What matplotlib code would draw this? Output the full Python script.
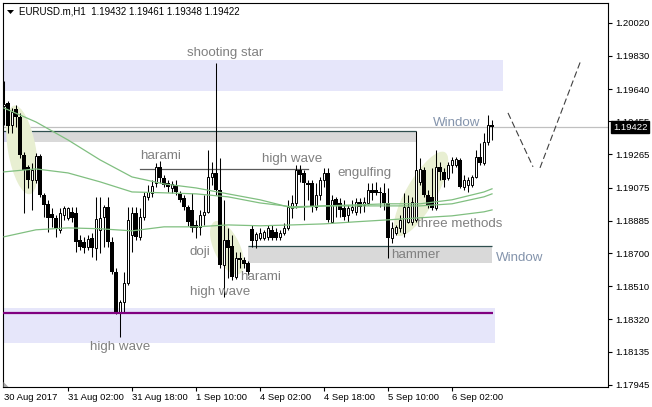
import matplotlib
matplotlib.use('Agg')
import matplotlib.pyplot as plt
from matplotlib.patches import Ellipse, Rectangle, Polygon
from matplotlib.transforms import Affine2D, ScaledTranslation
import numpy as np

# ---------------- data ----------------
title_text = "EURUSD.m,H1  1.19432 1.19461 1.19348 1.19422"

opens = [1.19543, 1.19560, 1.19434, 1.19526, 1.19480, 1.19262, 1.19194, 1.19119, 1.19119, 1.19257,
         1.19033, 1.18982, 1.18924, 1.18902, 1.18833, 1.18919, 1.18902, 1.18936, 1.18930, 1.18776,
         1.18764, 1.18735, 1.18787, 1.18730, 1.18833, 1.18907, 1.18965, 1.18764, 1.18592, 1.18363,
         1.18420, 1.18529, 1.18804, 1.18930, 1.18793, 1.18907, 1.19022, 1.19045, 1.19102, 1.19194,
         1.19131, 1.19102, 1.19073, 1.19091, 1.19045, 1.19016, 1.18965, 1.18947, 1.18861, 1.18850,
         1.18919, 1.18936, 1.19136, 1.19159, 1.19062, 1.18632, 1.18776, 1.18741, 1.18564, 1.18672,
         1.18661, 1.18644, 1.18839, 1.18776, 1.18787, 1.18787, 1.18793, 1.18833, 1.18821, 1.18793,
         1.18816, 1.18844, 1.18959, 1.18987, 1.19176, 1.19159, 1.19102, 1.19102, 1.18965, 1.19033,
         1.19119, 1.19159, 1.18879, 1.19010, 1.18987, 1.18959, 1.18919, 1.18947, 1.18936, 1.18993,
         1.18976, 1.18987, 1.19062, 1.19062, 1.19050, 1.19045, 1.18987, 1.18787, 1.18816, 1.18844,
         1.18816, 1.18879, 1.18879, 1.18890, 1.19108, 1.19176, 1.19033, 1.19022, 1.18959, 1.19194,
         1.19165, 1.19131, 1.19205, 1.19205, 1.19234, 1.19079, 1.19091, 1.19091, 1.19136, 1.19251,
         1.19217, 1.19337, 1.19432]
highs = [1.19686, 1.19572, 1.19531, 1.19549, 1.19503, 1.19280, 1.19205, 1.19217, 1.19274, 1.19268,
         1.19045, 1.19005, 1.18959, 1.18919, 1.18959, 1.18970, 1.18965, 1.18965, 1.18965, 1.18804,
         1.18793, 1.18804, 1.18816, 1.19022, 1.19022, 1.18976, 1.19022, 1.18793, 1.18615, 1.18432,
         1.18592, 1.18965, 1.18965, 1.18965, 1.18959, 1.19050, 1.19091, 1.19119, 1.19217, 1.19228,
         1.19148, 1.19119, 1.19113, 1.19119, 1.19056, 1.19033, 1.18976, 1.19045, 1.18890, 1.18947,
         1.19033, 1.19291, 1.19222, 1.19789, 1.19245, 1.19005, 1.18844, 1.18804, 1.18707, 1.18707,
         1.18678, 1.18655, 1.18861, 1.18821, 1.18844, 1.18833, 1.18861, 1.18861, 1.18844, 1.18833,
         1.18873, 1.19005, 1.19033, 1.19205, 1.19205, 1.19176, 1.19119, 1.19119, 1.19102, 1.19136,
         1.19188, 1.19188, 1.19033, 1.19022, 1.19016, 1.19005, 1.18976, 1.19005, 1.19016, 1.19016,
         1.19022, 1.19102, 1.19102, 1.19108, 1.19079, 1.19102, 1.19073, 1.18879, 1.18861, 1.18919,
         1.19045, 1.19033, 1.19022, 1.19400, 1.19245, 1.19194, 1.19062, 1.19188, 1.19291, 1.19222,
         1.19188, 1.19222, 1.19251, 1.19251, 1.19245, 1.19148, 1.19136, 1.19148, 1.19291, 1.19331,
         1.19388, 1.19491, 1.19461]
lows = [1.19434, 1.19388, 1.19388, 1.19423, 1.19245, 1.18930, 1.19073, 1.18947, 1.19102, 1.19022,
        1.18907, 1.18821, 1.18850, 1.18793, 1.18816, 1.18890, 1.18890, 1.18879, 1.18707, 1.18718,
        1.18701, 1.18718, 1.18678, 1.18661, 1.18701, 1.18735, 1.18735, 1.18581, 1.18352, 1.18220,
        1.18357, 1.18518, 1.18707, 1.18776, 1.18776, 1.18890, 1.19005, 1.19022, 1.19079, 1.19102,
        1.19079, 1.19050, 1.19045, 1.19033, 1.18993, 1.18947, 1.18856, 1.18821, 1.18787, 1.18804,
        1.18861, 1.18930, 1.19091, 1.19033, 1.18615, 1.18449, 1.18558, 1.18546, 1.18552, 1.18615,
        1.18615, 1.18575, 1.18735, 1.18730, 1.18776, 1.18776, 1.18776, 1.18776, 1.18776, 1.18776,
        1.18804, 1.18833, 1.18902, 1.18959, 1.19108, 1.18890, 1.19005, 1.18936, 1.18947, 1.19005,
        1.19079, 1.18879, 1.18873, 1.18907, 1.18907, 1.18890, 1.18879, 1.18930, 1.18919, 1.18930,
        1.18936, 1.18976, 1.19005, 1.19033, 1.18965, 1.18947, 1.18672, 1.18758, 1.18804, 1.18821,
        1.18793, 1.18873, 1.18861, 1.18879, 1.19091, 1.19022, 1.18959, 1.18947, 1.18947, 1.19119,
        1.19079, 1.19119, 1.19159, 1.19194, 1.19073, 1.19062, 1.19050, 1.19079, 1.19131, 1.19205,
        1.19205, 1.19320, 1.19348]
closes = [1.19554, 1.19428, 1.19509, 1.19480, 1.19262, 1.19176, 1.19119, 1.19176, 1.19257, 1.19033,
          1.18976, 1.18902, 1.18902, 1.18844, 1.18930, 1.18959, 1.18959, 1.18902, 1.18764, 1.18735,
          1.18730, 1.18781, 1.18730, 1.18896, 1.18902, 1.18965, 1.18764, 1.18592, 1.18363, 1.18420,
          1.18529, 1.18890, 1.18930, 1.18793, 1.18907, 1.19028, 1.19050, 1.19085, 1.19194, 1.19131,
          1.19091, 1.19079, 1.19096, 1.19050, 1.19005, 1.18965, 1.18879, 1.18844, 1.18844, 1.18919,
          1.18936, 1.19136, 1.19159, 1.19062, 1.18632, 1.18776, 1.18730, 1.18564, 1.18672, 1.18661,
          1.18638, 1.18592, 1.18770, 1.18810, 1.18816, 1.18821, 1.18844, 1.18787, 1.18787, 1.18816,
          1.18844, 1.18965, 1.18987, 1.19176, 1.19148, 1.19102, 1.19091, 1.18965, 1.19033, 1.19119,
          1.19159, 1.18890, 1.19005, 1.18976, 1.18947, 1.18907, 1.18959, 1.18965, 1.18993, 1.18965,
          1.18993, 1.19062, 1.19045, 1.19045, 1.19045, 1.18987, 1.18787, 1.18844, 1.18850, 1.18890,
          1.18965, 1.18965, 1.18993, 1.19176, 1.19182, 1.19033, 1.18976, 1.18959, 1.19194, 1.19165,
          1.19119, 1.19205, 1.19234, 1.19239, 1.19079, 1.19119, 1.19119, 1.19136, 1.19251, 1.19217,
          1.19337, 1.19434, 1.19422]

# moving averages read at sampled bars
ma_bars = [0, 8, 16, 24, 32, 40, 48, 56, 64, 72, 80, 88, 96, 104, 112, 120, 122]
ma_fast = [1.19531, 1.19451, 1.19348, 1.19234, 1.19136, 1.19096, 1.19073, 1.19039, 1.19005,
           1.18959, 1.18970, 1.18976, 1.18982, 1.18982, 1.19005, 1.19050, 1.19068]
ma_mid = [1.19165, 1.19182, 1.19159, 1.19108, 1.19050, 1.19045, 1.19039, 1.19022, 1.18987,
          1.18965, 1.18970, 1.18970, 1.18970, 1.18970, 1.18982, 1.19022, 1.19039]
ma_slow = [1.18793, 1.18833, 1.18844, 1.18839, 1.18827, 1.18850, 1.18850, 1.18861, 1.18856,
           1.18861, 1.18867, 1.18879, 1.18890, 1.18902, 1.18913, 1.18936, 1.18947]

x_tick_bars = [16, 32, 48, 64, 80, 96, 112]
x_tick_labels = ["31 Aug 02:00", "31 Aug 18:00", "1 Sep 10:00", "4 Sep 02:00",
                 "4 Sep 18:00", "5 Sep 10:00", "6 Sep 02:00"]
first_date_label = "30 Aug 2017"
y_ticks = [1.20020, 1.19830, 1.19640, 1.19455, 1.19265, 1.19075, 1.18885,
           1.18700, 1.18510, 1.18320, 1.18135, 1.17945]
bid_price = 1.19422

# zones: (bar_start, bar_end, price_low, price_high)
lavender_zones = [(-0.25, 124.75, 1.19629, 1.19806),
                  (-0.25, 122.75, 1.18187, 1.18386),
                  (-0.25, 7.25, 1.19337, 1.19400)]
window_zones = [(-0.25, 103.0, 1.19337, 1.19400),
                (61.0, 122.0, 1.18644, 1.18741)]
support_price = 1.18359          # purple line
support_bars = (-0.25, 122.25)
pattern_line = (34, 76, 1.19182)  # harami / high wave line

# projection (dashed) segments: (bar0, price0, bar1, price1)
projection = [(126, 1.19503, 132.25, 1.19194),
              (134, 1.19188, 144.25, 1.19806)]

# pattern highlight blobs: (bar, price)
blob_centers = [(4.5, 1.19291), (55.75, 1.18730), (104.25, 1.19039)]

# text labels: (text, bar, price)
labels = [("shooting star", 55.25, 1.19846),
          ("harami", 39.1, 1.19257),
          ("high wave", 72.0, 1.19240),
          ("engulfing", 90.1, 1.19159),
          ("doji", 49.0, 1.18707),
          ("harami", 64.1, 1.18564),
          ("high wave", 54.0, 1.18478),
          ("three methods", 114.0, 1.18867),
          ("hammer", 103.0, 1.18690),
          ("high wave", 29.0, 1.18163)]
window_labels = [("Window", 113.1, 1.19446), ("Window", 129.0, 1.18672)]

# ---------------- figure ----------------
W, H = 652, 407
fig = plt.figure(figsize=(W / 100, H / 100), dpi=100)
fig.patch.set_facecolor('white')
ax = fig.add_axes([3 / W, 20 / H, 605 / W, 384 / H])
ax.set_autoscale_on(False)
ax.set_xlim(-0.25, 151)
ax.set_ylim(1.17932, 1.20133)
FONT = 'Liberation Sans'

# zones
for x0, x1, p0, p1 in lavender_zones[:2]:
    ax.add_patch(Rectangle((x0, p0), x1 - x0, p1 - p0, fc='#e6e6fa', ec='none', zorder=0.5))
for x0, x1, p0, p1 in window_zones:
    ax.add_patch(Rectangle((x0, p0), x1 - x0, p1 - p0, fc='#d9d9d9', ec='none', zorder=0.6))
    ax.plot([x0, x1], [p1, p1], color='#2f4f4f', lw=0.9, zorder=0.7, solid_capstyle='butt')
x0, x1, p0, p1 = lavender_zones[2]
ax.add_patch(Rectangle((x0, p0), x1 - x0, p1 - p0, fc='#d4d4f0', ec='none', zorder=0.65))

# bid line
ax.axhline(bid_price, color='#c0c0c0', lw=0.9, zorder=0.4)

# highlight blobs (pixel sized ellipses)
blob_shapes = [(90, 28, -80), (58, 26, -65), (96, 30, 60)]
for (bx, by), (w, h, ang) in zip(blob_centers, blob_shapes):
    tr = Affine2D() + ScaledTranslation(bx, by, ax.transData)
    e = Ellipse((0, 0), w, h, angle=ang, transform=tr, fc='#e8efd2', ec='none', zorder=0.8)
    ax.add_patch(e)

# pattern line
ax.plot([pattern_line[0], pattern_line[1]], [pattern_line[2]] * 2, color='#5a5a5a', lw=0.9, zorder=2)

# candles
o = np.array(opens); h_ = np.array(highs); l_ = np.array(lows); c = np.array(closes)
x = np.arange(len(o))
ax.vlines(x, l_, h_, colors='black', linewidths=0.75, zorder=3)
bottom = np.minimum(o, c)
height = np.maximum(np.abs(c - o), 0.00002)
up = c >= o
ax.bar(x[up], height[up], bottom=bottom[up], width=0.55, facecolor='white', edgecolor='black',
       linewidth=0.7, zorder=3.1)
ax.bar(x[~up], height[~up], bottom=bottom[~up], width=0.78, facecolor='black', edgecolor='none',
       linewidth=0, zorder=3.1)

# moving averages
for ma in (ma_fast, ma_mid, ma_slow):
    ax.plot(ma_bars, ma, color='#80bf80', lw=0.9, zorder=4)

# support line
ax.plot(support_bars, [support_price] * 2, color='#800080', lw=1.6, zorder=5, solid_capstyle='butt')

# projection dashed lines
for b0, q0, b1, q1 in projection:
    ax.plot([b0, b1], [q0, q1], color='#404040', lw=0.8, dashes=(5.8, 2.9), zorder=5)

# labels
for t, bx, by in labels:
    ax.text(bx, by, t, ha='center', va='center', fontsize=9.6, color='#808080', family=FONT, zorder=6)
for t, bx, by in window_labels:
    ax.text(bx, by, t, ha='center', va='center', fontsize=9.6, color='#8494ac', family=FONT,
            zorder=6, clip_on=False)

# axes styling
for s in ax.spines.values():
    s.set_linewidth(0.8)
    s.set_color('black')
ax.yaxis.tick_right()
ax.set_yticks(y_ticks)
ax.set_yticklabels([f"{v:.5f}" for v in y_ticks], family=FONT, fontsize=6.8)
ax.tick_params(axis='y', direction='out', length=3, width=0.8, pad=2.5)
ax.set_xticks(x_tick_bars)
ax.set_xticklabels(x_tick_labels, family=FONT, fontsize=6.8)
for lab in ax.get_xticklabels():
    lab.set_ha('left')
ax.tick_params(axis='x', direction='out', length=3, width=0.8, pad=1.5)
ax.annotate(first_date_label, xy=(-0.25, 0), xycoords=ax.get_xaxis_transform(),
            xytext=(1, -5.5), textcoords='offset pixels', ha='left', va='top',
            family=FONT, fontsize=6.8, annotation_clip=False)

# current price box
ax.annotate(f"{bid_price:.5f}", xy=(1, bid_price), xycoords=('axes fraction', 'data'),
            xytext=(5, 0), textcoords='offset pixels', ha='left', va='center',
            color='white', family=FONT, fontsize=6.8, annotation_clip=False, zorder=10,
            bbox=dict(boxstyle='square,pad=0.2', fc='black', ec='black'))

# title
fig.text(19 / W, 1 - 12 / H, title_text, ha='left', va='center', family=FONT, fontsize=7,
         color='black')
fig.add_artist(Polygon([[7 / W, 1 - 10 / H], [14 / W, 1 - 10 / H], [10.5 / W, 1 - 14 / H]],
                       closed=True, fc='black', ec='none', transform=fig.transFigure))
fig.add_artist(Polygon([[3.5 / W, 20 / H], [3.5 / W, 25 / H], [8.5 / W, 20 / H]],
                       closed=True, fc='#a8a8a8', ec='none', transform=fig.transFigure, zorder=10))

fig.savefig('out.png', dpi=100)
